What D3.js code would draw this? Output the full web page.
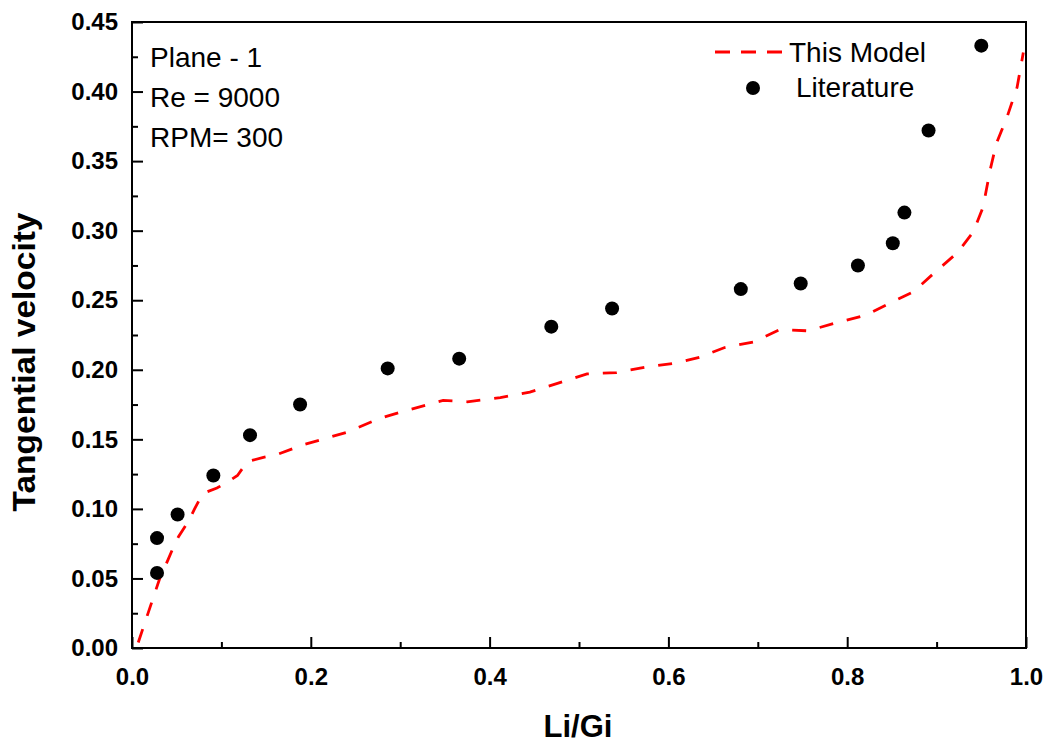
<!DOCTYPE html>
<html>
<head>
<meta charset="utf-8">
<script src="https://cdn.jsdelivr.net/npm/d3@7"></script>
<style>
  html, body { margin: 0; padding: 0; background: #fff; }
  svg { display: block; }
  text { font-family: "Liberation Sans", Arial, sans-serif; }
</style>
</head>
<body>
<svg id="chart" width="1052" height="745"></svg>
<script>
// Model prediction (red dashed curve)
const modelX = [0.007, 0.031, 0.040, 0.046, 0.052, 0.063, 0.070, 0.079, 0.095, 0.106, 0.118, 0.129, 0.147, 0.162, 0.191, 0.240, 0.277, 0.303, 0.348, 0.375, 0.412, 0.445, 0.475, 0.509, 0.542, 0.576, 0.610, 0.635, 0.663, 0.695, 0.725, 0.756, 0.789, 0.820, 0.848, 0.874, 0.898, 0.923, 0.941, 0.952, 0.960, 0.967, 0.979, 0.990, 0.997];
const modelY = [0.004, 0.050, 0.063, 0.072, 0.080, 0.091, 0.100, 0.111, 0.115, 0.119, 0.124, 0.134, 0.137, 0.139, 0.146, 0.155, 0.165, 0.170, 0.178, 0.177, 0.180, 0.184, 0.190, 0.197, 0.198, 0.202, 0.205, 0.209, 0.216, 0.220, 0.229, 0.228, 0.234, 0.239, 0.248, 0.256, 0.270, 0.284, 0.299, 0.317, 0.344, 0.363, 0.382, 0.403, 0.428];

// Literature data (black dots)
const litX = [0.028, 0.028, 0.051, 0.091, 0.132, 0.188, 0.286, 0.366, 0.469, 0.537, 0.681, 0.748, 0.812, 0.851, 0.864, 0.891, 0.950];
const litY = [0.079, 0.054, 0.096, 0.124, 0.153, 0.175, 0.201, 0.208, 0.231, 0.244, 0.258, 0.262, 0.275, 0.291, 0.313, 0.372, 0.433];

const xTicks = [0.0, 0.2, 0.4, 0.6, 0.8, 1.0];
const xMinor = [0.1, 0.3, 0.5, 0.7, 0.9];
const yTicks = [0.00, 0.05, 0.10, 0.15, 0.20, 0.25, 0.30, 0.35, 0.40, 0.45];
const yMinor = [0.025, 0.075, 0.125, 0.175, 0.225, 0.275, 0.325, 0.375, 0.425];

const notes = ["Plane - 1", "Re = 9000", "RPM= 300"];
const seriesNames = ["This Model", "Literature"];

const svg = d3.select("#chart");
const plotLeft = 132, plotRight = 1026, plotTop = 22, plotBottom = 648;

const x = d3.scaleLinear().domain([0, 1]).range([plotLeft, plotRight]);
const y = d3.scaleLinear().domain([0, 0.45]).range([plotBottom, plotTop]);

// frame
svg.append("rect")
  .attr("x", plotLeft).attr("y", plotTop)
  .attr("width", plotRight - plotLeft).attr("height", plotBottom - plotTop)
  .attr("fill", "none").attr("stroke", "#000").attr("stroke-width", 2);

// x axis (ticks pointing inward)
const xAxis = svg.append("g").attr("transform", `translate(0,${plotBottom})`);
xAxis.call(d3.axisBottom(x).tickValues(xTicks).tickSize(-11).tickPadding(20)
  .tickFormat(d3.format(".1f")));
xAxis.append("g").call(d3.axisBottom(x).tickValues(xMinor).tickSize(-6).tickFormat(""));
xAxis.selectAll(".domain").remove();
xAxis.selectAll(".tick line").attr("stroke", "#000").attr("stroke-width", 2);
xAxis.selectAll(".tick text")
  .attr("font-size", 24).attr("font-weight", "bold").attr("fill", "#000")
  .attr("dy", "0.71em");

// y axis (ticks pointing inward)
const yAxis = svg.append("g").attr("transform", `translate(${plotLeft},0)`);
yAxis.call(d3.axisLeft(y).tickValues(yTicks).tickSize(-11).tickPadding(14)
  .tickFormat(d3.format(".2f")));
yAxis.append("g").call(d3.axisLeft(y).tickValues(yMinor).tickSize(-6).tickFormat(""));
yAxis.selectAll(".domain").remove();
yAxis.selectAll(".tick line").attr("stroke", "#000").attr("stroke-width", 2);
yAxis.selectAll(".tick text")
  .attr("font-size", 24).attr("font-weight", "bold").attr("fill", "#000");

// axis titles
svg.append("text")
  .attr("x", 578).attr("y", 737)
  .attr("text-anchor", "middle")
  .attr("font-size", 31).attr("font-weight", "bold")
  .text("Li/Gi");

svg.append("text")
  .attr("transform", `translate(35,362) rotate(-90)`)
  .attr("text-anchor", "middle")
  .attr("font-size", 31).attr("font-weight", "bold")
  .attr("textLength", 299).attr("lengthAdjust", "spacingAndGlyphs")
  .text("Tangential velocity");

// model curve
const model = modelX.map((v, i) => [v, modelY[i]]);
svg.append("path")
  .datum(model)
  .attr("fill", "none")
  .attr("stroke", "#ff0000")
  .attr("stroke-width", 2.8)
  .attr("stroke-dasharray", "14,14")
  .attr("d", d3.line().x(d => x(d[0])).y(d => y(d[1])));

// literature points
const lit = litX.map((v, i) => [v, litY[i]]);
svg.append("g").selectAll("circle")
  .data(lit).join("circle")
  .attr("cx", d => x(d[0])).attr("cy", d => y(d[1]))
  .attr("r", 7).attr("fill", "#000");

// annotation text
svg.append("g").selectAll("text")
  .data(notes).join("text")
  .attr("x", 150).attr("y", (d, i) => 67 + i * 40)
  .attr("font-size", 28)
  .text(d => d);

// legend
const lg = svg.append("g");
lg.append("line")
  .attr("x1", 715).attr("x2", 782).attr("y1", 52).attr("y2", 52)
  .attr("stroke", "#ff0000").attr("stroke-width", 2.8)
  .attr("stroke-dasharray", "15,11");
lg.append("text").attr("x", 789).attr("y", 62).attr("font-size", 28).text(seriesNames[0]);
lg.append("circle").attr("cx", 753).attr("cy", 88).attr("r", 7).attr("fill", "#000");
lg.append("text").attr("x", 796).attr("y", 97).attr("font-size", 28).text(seriesNames[1]);
</script>
</body>
</html>
